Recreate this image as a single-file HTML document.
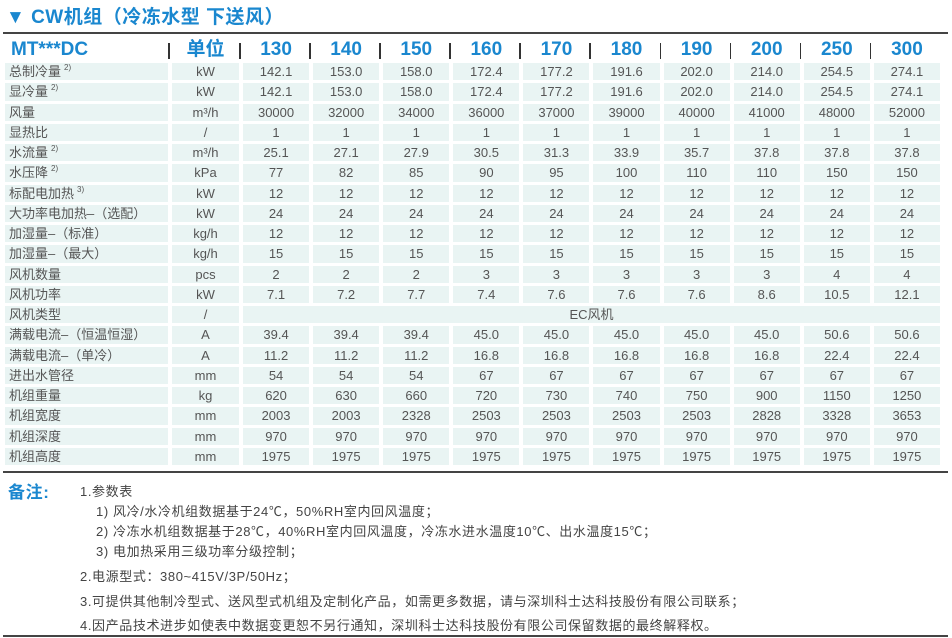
<!DOCTYPE html>
<html><head><meta charset="utf-8">
<style>
body{margin:0;width:952px;height:638px;background:#fff;position:relative;overflow:hidden;font-family:"Liberation Sans","Noto Sans CJK SC",sans-serif;}
.title{position:absolute;left:6px;top:2px;font-size:19px;font-weight:bold;color:#1a87cf;letter-spacing:0.5px}
.hl{position:absolute;left:3px;width:945px;height:2px;background:#444}
table{position:absolute;left:1px;top:37px;border-collapse:separate;border-spacing:4px 3px;table-layout:fixed;width:943px}
td{background:#e9f4f3;color:#555;font-size:13px;text-align:center;height:17.26px;padding:0;line-height:17px;white-space:nowrap;overflow:hidden}
td.l{text-align:left;padding-left:4px}
tr.h td{background:#fff;color:#1a87cf;font-size:19px;font-weight:bold;height:20px;line-height:20px;position:relative;overflow:visible}
tr.h td.s:before{content:"";position:absolute;left:-4px;top:3px;width:1.5px;height:16px;background:#333}
sup{font-size:8px;vertical-align:baseline;position:relative;top:-6px;margin-left:3px;line-height:0}
.notes{position:absolute;left:0;top:0;font-size:13px;color:#444;letter-spacing:0.6px}
.notes div{position:absolute;white-space:nowrap}
</style></head><body>
<div class="title">▼ CW机组（冷冻水型 下送风）</div>
<div class="hl" style="top:32px"></div>
<table>
<colgroup><col style="width:163px"><col style="width:67px"><col><col><col><col><col><col><col><col><col><col></colgroup>
<tr class="h"><td class="l" style="padding-left:6px">MT***DC</td><td class="s">单位</td><td class="s">130</td><td class="s">140</td><td class="s">150</td><td class="s">160</td><td class="s">170</td><td class="s">180</td><td class="s">190</td><td class="s">200</td><td class="s">250</td><td class="s">300</td></tr>
<tr><td class="l">总制冷量<sup>2)</sup></td><td>kW</td><td>142.1</td><td>153.0</td><td>158.0</td><td>172.4</td><td>177.2</td><td>191.6</td><td>202.0</td><td>214.0</td><td>254.5</td><td>274.1</td></tr>
<tr><td class="l">显冷量<sup>2)</sup></td><td>kW</td><td>142.1</td><td>153.0</td><td>158.0</td><td>172.4</td><td>177.2</td><td>191.6</td><td>202.0</td><td>214.0</td><td>254.5</td><td>274.1</td></tr>
<tr><td class="l">风量</td><td>m³/h</td><td>30000</td><td>32000</td><td>34000</td><td>36000</td><td>37000</td><td>39000</td><td>40000</td><td>41000</td><td>48000</td><td>52000</td></tr>
<tr><td class="l">显热比</td><td>/</td><td>1</td><td>1</td><td>1</td><td>1</td><td>1</td><td>1</td><td>1</td><td>1</td><td>1</td><td>1</td></tr>
<tr><td class="l">水流量<sup>2)</sup></td><td>m³/h</td><td>25.1</td><td>27.1</td><td>27.9</td><td>30.5</td><td>31.3</td><td>33.9</td><td>35.7</td><td>37.8</td><td>37.8</td><td>37.8</td></tr>
<tr><td class="l">水压降<sup>2)</sup></td><td>kPa</td><td>77</td><td>82</td><td>85</td><td>90</td><td>95</td><td>100</td><td>110</td><td>110</td><td>150</td><td>150</td></tr>
<tr><td class="l">标配电加热<sup>3)</sup></td><td>kW</td><td>12</td><td>12</td><td>12</td><td>12</td><td>12</td><td>12</td><td>12</td><td>12</td><td>12</td><td>12</td></tr>
<tr><td class="l">大功率电加热–（选配）</td><td>kW</td><td>24</td><td>24</td><td>24</td><td>24</td><td>24</td><td>24</td><td>24</td><td>24</td><td>24</td><td>24</td></tr>
<tr><td class="l">加湿量–（标准）</td><td>kg/h</td><td>12</td><td>12</td><td>12</td><td>12</td><td>12</td><td>12</td><td>12</td><td>12</td><td>12</td><td>12</td></tr>
<tr><td class="l">加湿量–（最大）</td><td>kg/h</td><td>15</td><td>15</td><td>15</td><td>15</td><td>15</td><td>15</td><td>15</td><td>15</td><td>15</td><td>15</td></tr>
<tr><td class="l">风机数量</td><td>pcs</td><td>2</td><td>2</td><td>2</td><td>3</td><td>3</td><td>3</td><td>3</td><td>3</td><td>4</td><td>4</td></tr>
<tr><td class="l">风机功率</td><td>kW</td><td>7.1</td><td>7.2</td><td>7.7</td><td>7.4</td><td>7.6</td><td>7.6</td><td>7.6</td><td>8.6</td><td>10.5</td><td>12.1</td></tr>
<tr><td class="l">风机类型</td><td>/</td><td colspan="10">EC风机</td></tr>
<tr><td class="l">满载电流–（恒温恒湿）</td><td>A</td><td>39.4</td><td>39.4</td><td>39.4</td><td>45.0</td><td>45.0</td><td>45.0</td><td>45.0</td><td>45.0</td><td>50.6</td><td>50.6</td></tr>
<tr><td class="l">满载电流–（单冷）</td><td>A</td><td>11.2</td><td>11.2</td><td>11.2</td><td>16.8</td><td>16.8</td><td>16.8</td><td>16.8</td><td>16.8</td><td>22.4</td><td>22.4</td></tr>
<tr><td class="l">进出水管径</td><td>mm</td><td>54</td><td>54</td><td>54</td><td>67</td><td>67</td><td>67</td><td>67</td><td>67</td><td>67</td><td>67</td></tr>
<tr><td class="l">机组重量</td><td>kg</td><td>620</td><td>630</td><td>660</td><td>720</td><td>730</td><td>740</td><td>750</td><td>900</td><td>1150</td><td>1250</td></tr>
<tr><td class="l">机组宽度</td><td>mm</td><td>2003</td><td>2003</td><td>2328</td><td>2503</td><td>2503</td><td>2503</td><td>2503</td><td>2828</td><td>3328</td><td>3653</td></tr>
<tr><td class="l">机组深度</td><td>mm</td><td>970</td><td>970</td><td>970</td><td>970</td><td>970</td><td>970</td><td>970</td><td>970</td><td>970</td><td>970</td></tr>
<tr><td class="l">机组高度</td><td>mm</td><td>1975</td><td>1975</td><td>1975</td><td>1975</td><td>1975</td><td>1975</td><td>1975</td><td>1975</td><td>1975</td><td>1975</td></tr>
</table>
<div class="hl" style="top:471px"></div>
<div class="notes">
<div style="left:8px;top:478px;font-size:17px;font-weight:bold;color:#1a87cf">备注:</div>
<div style="left:80px;top:481px">1.参数表</div>
<div style="left:96px;top:501px">1) 风冷/水冷机组数据基于24℃，50%RH室内回风温度；</div>
<div style="left:96px;top:521px">2) 冷冻水机组数据基于28℃，40%RH室内回风温度，冷冻水进水温度10℃、出水温度15℃；</div>
<div style="left:96px;top:541px">3) 电加热采用三级功率分级控制；</div>
<div style="left:80px;top:566px">2.电源型式：380~415V/3P/50Hz；</div>
<div style="left:80px;top:591px">3.可提供其他制冷型式、送风型式机组及定制化产品，如需更多数据，请与深圳科士达科技股份有限公司联系；</div>
<div style="left:80px;top:615px">4.因产品技术进步如使表中数据变更恕不另行通知，深圳科士达科技股份有限公司保留数据的最终解释权。</div>
</div>
<div class="hl" style="top:635px"></div>
</body></html>
